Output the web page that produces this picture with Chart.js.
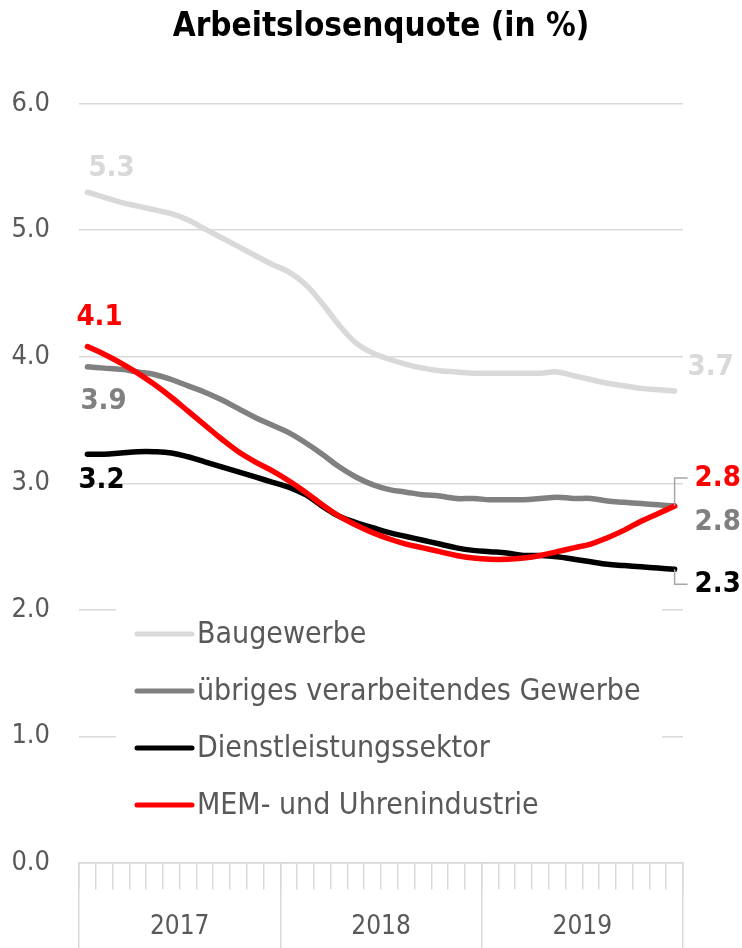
<!DOCTYPE html>
<html>
<head>
<meta charset="utf-8">
<script src="https://cdn.jsdelivr.net/npm/chart.js@4.4.1/dist/chart.umd.min.js"></script>
<style>
  body { margin: 0; background: #fff; }
  #wrap { width: 742px; height: 948px; }
</style>
</head>
<body>
<div id="wrap"><canvas id="rateChart" width="742" height="948"></canvas></div>
<script>
const years = ['2017', '2018', '2019'];
const months = [
  'Jan 2017', 'Feb 2017', 'Mär 2017', 'Apr 2017', 'Mai 2017', 'Jun 2017', 'Jul 2017', 'Aug 2017', 'Sep 2017', 'Okt 2017', 'Nov 2017', 'Dez 2017',
  'Jan 2018', 'Feb 2018', 'Mär 2018', 'Apr 2018', 'Mai 2018', 'Jun 2018', 'Jul 2018', 'Aug 2018', 'Sep 2018', 'Okt 2018', 'Nov 2018', 'Dez 2018',
  'Jan 2019', 'Feb 2019', 'Mär 2019', 'Apr 2019', 'Mai 2019', 'Jun 2019', 'Jul 2019', 'Aug 2019', 'Sep 2019', 'Okt 2019', 'Nov 2019', 'Dez 2019'
];
const yTicks = [0, 1, 2, 3, 4, 5, 6];

const baugewerbe = [5.30, 5.26, 5.22, 5.19, 5.16, 5.13, 5.08, 5.01, 4.94, 4.87, 4.80, 4.73,
  4.67, 4.57, 4.42, 4.25, 4.11, 4.03, 3.98, 3.94, 3.91, 3.89, 3.88, 3.87,
  3.87, 3.87, 3.87, 3.87, 3.88, 3.85, 3.82, 3.79, 3.77, 3.75, 3.74, 3.73];
const uebriges = [3.92, 3.91, 3.90, 3.88, 3.86, 3.82, 3.77, 3.72, 3.66, 3.59, 3.52, 3.46,
  3.40, 3.32, 3.23, 3.13, 3.05, 2.99, 2.95, 2.93, 2.91, 2.90, 2.88, 2.88,
  2.87, 2.87, 2.87, 2.88, 2.89, 2.88, 2.88, 2.86, 2.85, 2.84, 2.83, 2.82];
const dienstleistung = [3.23, 3.23, 3.24, 3.25, 3.25, 3.24, 3.21, 3.17, 3.13, 3.09, 3.05, 3.01,
  2.97, 2.91, 2.82, 2.74, 2.69, 2.65, 2.61, 2.58, 2.55, 2.52, 2.49, 2.47,
  2.46, 2.45, 2.43, 2.43, 2.42, 2.40, 2.38, 2.36, 2.35, 2.34, 2.33, 2.32];
const mem = [4.08, 4.02, 3.95, 3.87, 3.78, 3.68, 3.57, 3.46, 3.35, 3.25, 3.17, 3.10,
  3.02, 2.93, 2.83, 2.74, 2.67, 2.61, 2.56, 2.52, 2.49, 2.46, 2.43, 2.41,
  2.40, 2.40, 2.41, 2.43, 2.46, 2.49, 2.52, 2.57, 2.63, 2.70, 2.76, 2.82];

const seriesNames = ['Baugewerbe', 'übriges verarbeitendes Gewerbe', 'Dienstleistungssektor', 'MEM- und Uhrenindustrie'];
const seriesColors = ['#d9d9d9', '#808080', '#000000', '#ff0000'];

const FONT = "'Liberation Sans Narrow', 'Arial Narrow', 'DejaVu Sans Condensed', sans-serif";
const TEXT_GREY = '#595959';
const GRID = '#d9d9d9';

// where the value labels sit relative to first / last point
const startLabels = [
  { dx: 1, dy: -24 },
  { dx: -7, dy: 35 },
  { dx: -9, dy: 26 },
  { dx: -11, dy: -29 }
];
const endLabels = [
  { dx: 13, dy: -23 },
  { dx: 20, dy: 16 },
  { dx: 20, dy: 15, leader: true },
  { dx: 20, dy: -28, leader: true }
];

const valueLabels = {
  id: 'valueLabels',
  afterDatasetsDraw(chart) {
    const ctx = chart.ctx;
    ctx.save();
    ctx.font = 'bold 29px ' + FONT;
    ctx.textBaseline = 'middle';
    ctx.textAlign = 'left';
    chart.data.datasets.forEach((ds, i) => {
      const pts = chart.getDatasetMeta(i).data;
      const first = pts[0], last = pts[pts.length - 1];
      ctx.fillStyle = ds.borderColor;
      const s = startLabels[i];
      ctx.fillText(ds.data[0].toFixed(1), first.x + s.dx, first.y + s.dy);
      const e = endLabels[i];
      ctx.fillText(ds.data[ds.data.length - 1].toFixed(1), last.x + e.dx, last.y + e.dy);
      if (e.leader) {
        ctx.strokeStyle = '#a6a6a6';
        ctx.lineWidth = 1.5;
        ctx.beginPath();
        ctx.moveTo(last.x, last.y);
        ctx.lineTo(last.x, last.y + e.dy);
        ctx.lineTo(last.x + e.dx - 7, last.y + e.dy);
        ctx.stroke();
      }
    });
    ctx.restore();
  }
};

// legend sits inside the plot on a white box that hides the grid lines
const insideLegend = {
  id: 'insideLegend',
  afterDraw(chart) {
    const ctx = chart.ctx;
    ctx.save();
    ctx.fillStyle = '#fff';
    ctx.fillRect(116, 602, 546, 232);
    ctx.font = '30px ' + FONT;
    ctx.textBaseline = 'middle';
    ctx.textAlign = 'left';
    chart.data.datasets.forEach((ds, i) => {
      const y = 634 + i * 57;
      ctx.strokeStyle = ds.borderColor;
      ctx.lineWidth = 5;
      ctx.lineCap = 'round';
      ctx.beginPath();
      ctx.moveTo(137, y);
      ctx.lineTo(192, y);
      ctx.stroke();
      ctx.fillStyle = TEXT_GREY;
      ctx.fillText(ds.label, 197, y + 1);
    });
    ctx.restore();
  }
};

const seriesData = [baugewerbe, uebriges, dienstleistung, mem];
const drawOrder = [3, 2, 1, 0];

const ctx = document.getElementById('rateChart').getContext('2d');
new Chart(ctx, {
  type: 'line',
  data: {
    labels: months,
    datasets: seriesData.map((d, i) => ({
      label: seriesNames[i],
      data: d,
      borderColor: seriesColors[i],
      backgroundColor: seriesColors[i],
      borderWidth: 5.5,
      borderCapStyle: 'round',
      pointRadius: 0,
      tension: 0.4,
      order: drawOrder[i],
      xAxisID: 'x'
    }))
  },
  options: {
    responsive: false,
    animation: false,
    layout: { padding: { left: 0, right: 59, top: 0, bottom: 85 } },
    plugins: {
      legend: { display: false },
      tooltip: { enabled: false },
      title: {
        display: true,
        fullSize: false,
        text: 'Arbeitslosenquote (in %)',
        color: '#000',
        font: { family: FONT, size: 33, weight: 'bold' },
        padding: { top: 8, bottom: 56 }
      }
    },
    scales: {
      // months: short ticks, year name under the middle of each year
      x: {
        type: 'category',
        position: { y: 0 },
        offset: true,
        grid: { offset: true, drawOnChartArea: false, tickLength: 26, color: GRID, lineWidth: 1.5 },
        border: { display: true, color: GRID, width: 1.5 },
        ticks: {
          autoSkip: false,
          maxRotation: 0,
          color: TEXT_GREY,
          font: { family: FONT, size: 26 },
          padding: 23,
          labelOffset: 8.4,
          callback: (v, i) => (i % 12 === 5 ? months[i].slice(-4) : '')
        }
      },
      // years: long separators
      x2: {
        type: 'category',
        position: { y: 0 },
        labels: years,
        offset: true,
        grid: { offset: true, drawOnChartArea: false, tickLength: 85, color: GRID, lineWidth: 1.5 },
        border: { display: false },
        ticks: { display: false }
      },
      y: {
        min: yTicks[0],
        max: yTicks[yTicks.length - 1],
        afterFit(scale) { scale.width = 79; },
        afterBuildTicks(scale) { scale.ticks = yTicks.map(v => ({ value: v })); },
        grid: { color: GRID, lineWidth: 1.5, drawTicks: false },
        border: { display: false },
        ticks: {
          color: TEXT_GREY,
          padding: 29,
          font: { family: FONT, size: 27 },
          callback: v => v.toFixed(1)
        }
      }
    }
  },
  plugins: [valueLabels, insideLegend]
});
</script>
</body>
</html>
